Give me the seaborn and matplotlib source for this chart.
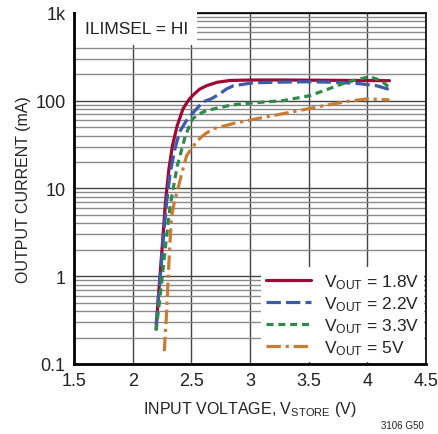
"""Output current vs input voltage, ILIMSEL = HI"""

from matplotlib import pyplot as plt
from matplotlib.ticker import FixedLocator, LogLocator, NullFormatter
import seaborn as sns
import pandas as pd

# values
v_18 = [2.20, 2.22, 2.25, 2.28, 2.31, 2.34, 2.38, 2.43, 2.48, 2.51, 2.57, 2.63, 2.72, 2.83, 3.0, 3.3, 3.6, 3.9, 4.19]
i_18 = [0.25, 0.6, 2.0, 7.0, 17, 31, 52, 81, 103, 114, 135, 148, 162, 170, 172, 172, 171, 170, 169]

v_22 = [2.20, 2.23, 2.26, 2.29, 2.32, 2.36, 2.40, 2.45, 2.49, 2.55, 2.60, 2.67, 2.74, 2.80, 2.86, 3.03, 3.3, 3.51, 3.75, 3.94, 4.08, 4.19]
i_22 = [0.28, 0.8, 2.5, 7.0, 15, 28, 44, 57, 67, 82, 97, 105, 119, 136, 148, 160, 163, 164, 162, 156, 148, 134]

v_33 = [2.20, 2.24, 2.28, 2.32, 2.38, 2.45, 2.51, 2.57, 2.63, 2.75, 2.86, 3.05, 3.28, 3.51, 3.65, 3.79, 3.92, 4.02, 4.12, 4.19]
i_33 = [0.24, 0.7, 2.2, 6.4, 18, 40, 62, 71, 77, 84, 90, 95, 100, 114, 133, 156, 175, 187, 170, 140]

v_5 = [2.27, 2.29, 2.31, 2.33, 2.36, 2.38, 2.42, 2.46, 2.55, 2.62, 2.69, 2.86, 3.05, 3.28, 3.50, 3.71, 3.85, 4.0, 4.19]
i_5 = [0.14, 0.4, 1.5, 4.6, 7.5, 9.2, 15, 23.6, 35, 42, 48, 55, 62, 71, 81, 92, 99, 105, 102]

series_labels = ["1.8V", "2.2V", "3.3V", "5V"]
x_ticks = [1.5, 2, 2.5, 3, 3.5, 4, 4.5]
x_tick_labels = ["1.5", "2", "2.5", "3", "3.5", "4", "4.5"]
y_ticks = [0.1, 1, 10, 100, 1000]
y_tick_labels = ["0.1", "1", "10", "100", "1k"]

colors = ["#9c0a35", "#3c5ca8", "#2f8a49", "#c97c34"]
dash_styles = ["", (4.5, 1.6), (2.2, 1.5), (4.5, 1.5, 1.0, 1.5)]


def build_frame():
    frames = []
    for lab, v, i in zip(series_labels, [v_18, v_22, v_33, v_5], [i_18, i_22, i_33, i_5]):
        frames.append(pd.DataFrame({"vstore": v, "iout": i, "vout": lab}))
    return pd.concat(frames, ignore_index=True)


def main():
    sns.set_style("white")
    plt.rcParams["font.family"] = ["Liberation Sans", "DejaVu Sans"]
    plt.rcParams["mathtext.fontset"] = "custom"
    plt.rcParams["mathtext.rm"] = "Liberation Sans"

    df = build_frame()

    fig = plt.figure(figsize=(4.39, 4.35), dpi=100)
    ax = fig.add_axes([0.1686, 0.161, 0.8014, 0.807])

    for lab, col, dash in zip(series_labels, colors, dash_styles):
        sub = df[df["vout"] == lab]
        sns.lineplot(
            data=sub, x="vstore", y="iout", ax=ax, color=col, linewidth=2.3,
            label=r"$\mathregular{V_{OUT}}$ = " + lab, sort=False, estimator=None,
            dashes=False,
        )
        if dash:
            ax.lines[-1].set_dashes(dash)

    ax.set_yscale("log")
    ax.set_xlim(1.5, 4.5)
    ax.set_ylim(0.1, 1000)

    # grid like the datasheet: 0.5 V verticals, full log minor grid
    ax.xaxis.set_major_locator(FixedLocator(x_ticks))
    ax.set_xticklabels(x_tick_labels)
    ax.yaxis.set_major_locator(FixedLocator(y_ticks))
    ax.set_yticklabels(y_tick_labels)
    ax.yaxis.set_minor_locator(LogLocator(base=10, subs=range(2, 10)))
    ax.yaxis.set_minor_formatter(NullFormatter())
    ax.grid(True, which="major", axis="both", color="#444444", linewidth=1.0)
    ax.grid(True, which="minor", axis="y", color="#8a8a8a", linewidth=1.0)
    ax.set_axisbelow(True)
    ax.tick_params(axis="both", which="both", length=0, labelsize=13, pad=6, colors="#222222")

    for side in ["left", "bottom"]:
        ax.spines[side].set_linewidth(2.0)
    for side in ["top", "right"]:
        ax.spines[side].set_linewidth(1.2)
    for sp in ax.spines.values():
        sp.set_color("black")
        sp.set_visible(True)

    ax.set_xlabel(r"INPUT VOLTAGE, $\mathregular{V_{STORE}}$ (V)", fontsize=11.5, color="#222222", labelpad=7)
    ax.set_ylabel("OUTPUT CURRENT (mA)", fontsize=11.5, color="#222222", labelpad=3)

    ax.text(0.03, 0.957, "ILIMSEL = HI", transform=ax.transAxes, fontsize=12.5, va="center", ha="left",
            color="#222222", bbox=dict(facecolor="white", edgecolor="none", pad=6.5))

    leg = ax.legend(loc="lower right", fontsize=12.5, frameon=True, handlelength=2.6,
                    borderaxespad=0.1, labelspacing=0.2, handletextpad=0.7, borderpad=0.3)
    leg.get_frame().set_facecolor("white")
    leg.get_frame().set_edgecolor("none")
    leg.get_frame().set_alpha(1.0)
    for t in leg.get_texts():
        t.set_color("#222222")

    fig.text(0.965, 0.01, "3106 G50", fontsize=7, ha="right", va="bottom", color="#222222")

    fig.savefig("out.png", dpi=100)


if __name__ == "__main__":
    main()
